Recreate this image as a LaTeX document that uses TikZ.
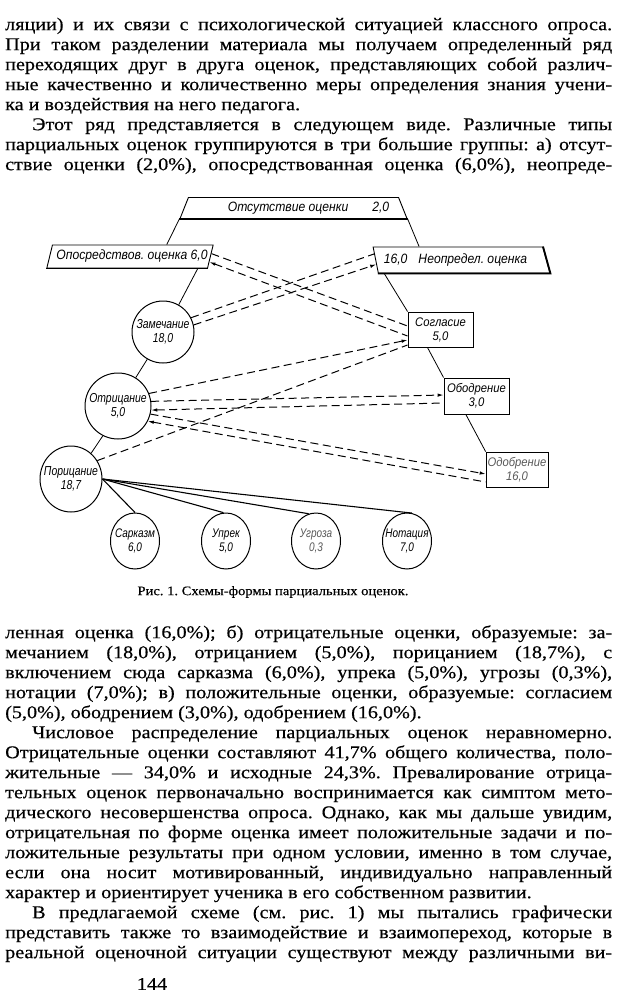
\documentclass[tikz,border=0pt]{standalone}
\usepackage{fontspec}
\setmainfont{Liberation Serif}[FakeStretch=1.12,FakeBold=0.4]
\newfontfamily\drawfont{Liberation Sans}[FakeStretch=0.9]
\newfontfamily\narrowfont{Liberation Sans}[FakeStretch=0.8]
\usepackage{tikz}
\usetikzlibrary{shapes.geometric,arrows.meta}
\hyphenpenalty=10000
\exhyphenpenalty=10000
\frenchspacing
\newcommand\ovaltext[2]{\makebox[0pt]{#1}\\\makebox[0pt]{#2}}
\tikzset{
  every picture/.style={x=1pt,y=-1pt},
  bodytext/.style={text width=607pt, align=justify, inner sep=0pt,
    font=\fontsize{18}{20}\selectfont},
  lettering/.style={font=\drawfont\itshape\fontsize{13.5}{14.5}\selectfont},
  ovallettering/.style={font=\narrowfont\itshape\fontsize{13}{14.5}\selectfont},
  smalllettering/.style={font=\narrowfont\itshape\fontsize{12.5}{14}\selectfont},
  slantbox/.style={trapezium, trapezium stretches=true, draw, line width=0.9pt,
    inner sep=0pt, lettering},
  roundbox/.style={ellipse, draw, line width=1pt, inner sep=0pt, align=center, ovallettering},
  rectbox/.style={rectangle, draw, line width=0.9pt, inner sep=0pt, align=center,
    minimum height=35pt, font=\drawfont\itshape\fontsize{12.5}{14}\selectfont},
  faded/.style={text=black!65},
  heavy/.style={line width=1.8pt},
  tree/.style={line width=0.8pt},
  fan/.style={line width=1.1pt},
  trans/.style={dash pattern=on 8pt off 4.5pt, line width=1pt},
}

\begin{document}
\begin{tikzpicture}[>={Latex[length=6pt,width=3.5pt]}]
    \useasboundingbox (0,0) rectangle (620,996);

    % Text above the figure
    \node[bodytext, anchor=north west] (above) at (5,16) {%
        \noindent\strut ляции) и их связи с психологической ситуацией классного опроса.\linebreak
        При таком разделении материала мы получаем определенный ряд\linebreak
        переходящих друг в друга оценок, представляющих собой различ-\linebreak
        ные качественно и количественно меры определения знания учени-\linebreak
        ка и воздействия на него педагога.\par
        {\parfillskip=0pt\hspace*{27pt}Этот ряд представляется в следующем виде. Различные типы\linebreak
        парциальных оценок группируются в три большие группы: а) отсут-\linebreak
        ствие оценки (2,0\%), опосредствованная оценка (6,0\%), неопреде-\par}};

    % Upper level
    \node[slantbox, trapezium left angle=58, trapezium right angle=58,
          minimum width=227pt, minimum height=21pt] (otsut) at (293.5,208)
          {\hspace*{30pt}Отсутствие оценки\hspace{24pt}2,0};
    \node[slantbox, trapezium left angle=66, trapezium right angle=114,
          minimum width=166pt, minimum height=23pt] (oposr) at (130,256.5)
          {\hspace*{4pt}Опосредствов. оценка 6,0};
    \node[slantbox, trapezium left angle=111, trapezium right angle=62,
          minimum width=177pt, minimum height=26pt] (neopr) at (460.5,260)
          {16,0\hspace{11pt}Неопредел. оценка\hspace*{10pt}};
    \draw[heavy] (otsut.bottom left corner) -- (otsut.bottom right corner);
    \draw[heavy] (oposr.bottom left corner) -- (oposr.bottom right corner);
    \draw[heavy] (neopr.bottom left corner) -- (neopr.bottom right corner) -- (neopr.top right corner);

    % Negative marks
    \node[roundbox, minimum width=62pt, minimum height=62pt] (zamech) at (163,332) {\ovaltext{Замечание}{18,0}};
    \node[roundbox, minimum width=66pt, minimum height=66pt] (otric) at (118,406) {\ovaltext{Отрицание}{5,0}};
    \node[roundbox, minimum width=62pt, minimum height=66pt] (poric) at (71,479) {\ovaltext{Порицание}{18,7}};
    \node[roundbox, smalllettering, minimum width=49pt, minimum height=56pt] (sark) at (135,541) {\ovaltext{Сарказм}{6,0}};
    \node[roundbox, smalllettering, minimum width=49pt, minimum height=56pt] (upr) at (226,541) {\ovaltext{Упрек}{5,0}};
    \node[roundbox, smalllettering, faded, minimum width=49pt, minimum height=56pt] (ugr) at (316,541) {\ovaltext{Угроза}{0,3}};
    \node[roundbox, smalllettering, minimum width=49pt, minimum height=56pt] (notac) at (407,541) {\ovaltext{Нотация}{7,0}};

    % Positive marks
    \node[rectbox, minimum width=65pt] (soglas) at (440.5,329.5) {Согласие\\5,0};
    \node[rectbox, minimum width=65pt, minimum height=36pt] (obodr) at (476.5,396) {Ободрение\\3,0};
    \node[rectbox, faded, minimum width=62pt, line width=0.7pt] (odobr) at (517,469.5) {Одобрение\\16,0};
    \draw[heavy] (soglas.north east) -- (soglas.south east) -- (soglas.south west);
    \draw[heavy] (obodr.north east) -- (obodr.south east) -- (obodr.south west);

    % Solid links
    \draw[tree] (otsut.bottom left corner) -- (oposr.18);
    \draw[tree] (otsut.bottom right corner) -- (neopr.162);
    \draw[tree] (oposr.-10) -- (zamech.60);
    \draw[tree] (zamech.240) -- (otric.58);
    \draw[tree] (otric.243) -- (poric.52);
    \draw[tree] (neopr.190) -- (soglas.north west);
    \draw[tree] (soglas.234) -- (obodr.north west);
    \draw[tree] (obodr.240) -- (odobr.north west);
    \foreach \leaf/\ang in {sark/90,upr/95,ugr/105,notac/80}
        \draw[fan] (poric.east) -- (\leaf.\ang);

    % Dashed transitions
    \draw[trans] (oposr.2.5) -- ([yshift=3.5pt]soglas.west);
    \draw[trans, <-] (oposr.-4) -- ([yshift=-6.5pt]soglas.west);
    \draw[trans] (zamech.27) -- (neopr.176);
    \draw[trans, ->] (zamech.13) -- (neopr.183);
    \draw[trans, ->] (otric.22) -- ([yshift=-10.5pt]soglas.west);
    \draw[trans] (poric.35) -- ([yshift=-15.5pt]soglas.west);
    \draw[trans, ->] (otric.8) -- ([yshift=1pt]obodr.west);
    \draw[trans, <-] (otric.-7) -- ([yshift=-7pt]obodr.west);
    \draw[trans, ->] (otric.-14) -- ([yshift=-4.5pt]odobr.west);
    \draw[trans, <-] (otric.-27) -- ([yshift=-12.5pt]odobr.west);

    % Caption
    \node[font=\fontsize{13}{15}\selectfont] (caption) at (273,592) {Рис. 1. Схемы-формы парциальных оценок.};

    % Text below the figure
    \node[bodytext, anchor=north west] (below) at (5,624) {%
        \noindent\strut ленная оценка (16,0\%); б) отрицательные оценки, образуемые: за-\linebreak
        мечанием (18,0\%), отрицанием (5,0\%), порицанием (18,7\%), с\linebreak
        включением сюда сарказма (6,0\%), упрека (5,0\%), угрозы (0,3\%),\linebreak
        нотации (7,0\%); в) положительные оценки, образуемые: согласием\linebreak
        (5,0\%), ободрением (3,0\%), одобрением (16,0\%).\par
        \hspace*{27pt}Числовое распределение парциальных оценок неравномерно.\linebreak
        Отрицательные оценки составляют 41,7\% общего количества, поло-\linebreak
        жительные — 34,0\% и исходные 24,3\%. Превалирование отрица-\linebreak
        тельных оценок первоначально воспринимается как симптом мето-\linebreak
        дического несовершенства опроса. Однако, как мы дальше увидим,\linebreak
        отрицательная по форме оценка имеет положительные задачи и по-\linebreak
        ложительные результаты при одном условии, именно в том случае,\linebreak
        если она носит мотивированный, индивидуально направленный\linebreak
        характер и ориентирует ученика в его собственном развитии.\par
        {\parfillskip=0pt\hspace*{27pt}В предлагаемой схеме (см. рис. 1) мы пытались графически\linebreak
        представить также то взаимодействие и взаимопереход, которые в\linebreak
        реальной оценочной ситуации существуют между различными ви-\par}};

    % Page number
    \node[font=\fontsize{18}{20}\selectfont] (folio) at (152,984) {144};
\end{tikzpicture}
\end{document}
